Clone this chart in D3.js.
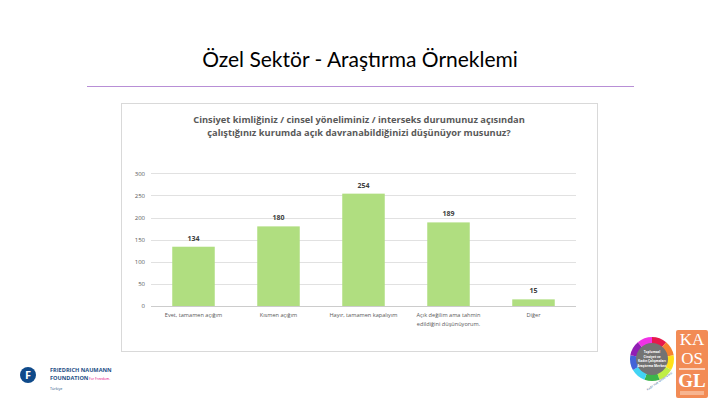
<!DOCTYPE html>
<html><head><meta charset="utf-8">
<script src="https://cdn.jsdelivr.net/npm/d3@7"></script>
<style>body{margin:0;background:#fff}svg{display:block}</style>
</head><body>
<svg id="c" width="720" height="405"></svg>
<script>
const categories = ["Evet, tamamen açığım","Kısmen açığım","Hayır, tamamen kapalıyım","Açık değilim ama tahmin edildiğini düşünüyorum.","Diğer"];
const categoryLines = [["Evet, tamamen açığım"],["Kısmen açığım"],["Hayır, tamamen kapalıyım"],["Açık değilim ama tahmin","edildiğini düşünüyorum."],["Diğer"]];
const values = [134,180,254,189,15];
const yTicks = [0,50,100,150,200,250,300];
const slideTitle = "Özel Sektör - Araştırma Örneklemi";
const chartTitle = ["Cinsiyet kimliğiniz / cinsel yöneliminiz / interseks durumunuz açısından","çalıştığınız kurumda açık davranabildiğinizi düşünüyor musunuz?"];

const svg = d3.select("#c");
const font = "'Open Sans', 'Noto Sans', sans-serif";

// Slide title
svg.append("text").attr("x",360).attr("y",67).attr("text-anchor","middle")
  .attr("font-family","Lato, 'Open Sans', sans-serif").attr("font-size",21).attr("fill","#000").text(slideTitle);
svg.append("line").attr("x1",87).attr("x2",634).attr("y1",86.5).attr("y2",86.5)
  .attr("stroke","#b88fd6").attr("stroke-width",1.2);

// Chart frame
svg.append("rect").attr("x",121.5).attr("y",103.5).attr("width",476).attr("height",248)
  .attr("fill","#fff").attr("stroke","#d9d9d9").attr("stroke-width",1);

// chart title
chartTitle.forEach((t,i)=>{
  svg.append("text").attr("x",359).attr("y",123+i*13).attr("text-anchor","middle")
    .attr("font-family",font).attr("font-weight","bold").attr("font-size",9.3)
    .attr("fill","#595959").text(t);
});

const x = d3.scaleBand().domain(categories).range([151,576]).paddingInner(0.5).paddingOuter(0.25);
const y = d3.scaleLinear().domain([0,300]).range([306,173.3]);

// gridlines
svg.append("g").selectAll("line").data(yTicks.filter(d=>d>0)).join("line")
  .attr("x1",151).attr("x2",576).attr("y1",d=>Math.round(y(d))+0.5).attr("y2",d=>Math.round(y(d))+0.5)
  .attr("stroke","#d9d9d9").attr("stroke-width",0.8);

// y axis labels
const yAxis = d3.axisLeft(y).tickValues(yTicks).tickSize(0).tickPadding(6);
const ga = svg.append("g").attr("transform","translate(151,0)").call(yAxis);
ga.select(".domain").remove();
ga.selectAll("text").attr("font-family",font).attr("font-size",6).attr("fill","#595959");

// bars
svg.append("g").selectAll("rect").data(values).join("rect")
  .attr("x",(d,i)=>x(categories[i])).attr("width",x.bandwidth())
  .attr("y",d=>y(d)).attr("height",d=>y(0)-y(d)).attr("fill","#b0de80");

// baseline
svg.append("line").attr("x1",151).attr("x2",576).attr("y1",306.5).attr("y2",306.5)
  .attr("stroke","#bfbfbf").attr("stroke-width",0.8);

// data labels
svg.append("g").selectAll("text").data(values).join("text")
  .attr("x",(d,i)=>x(categories[i])+x.bandwidth()/2).attr("y",d=>y(d)-6)
  .attr("text-anchor","middle").attr("font-family",font).attr("font-weight","bold")
  .attr("font-size",7).attr("fill","#404040").text(d=>d);

// category labels
const gx = svg.append("g");
categoryLines.forEach((lines,i)=>{
  lines.forEach((l,j)=>{
    gx.append("text").attr("x",x(categories[i])+x.bandwidth()/2).attr("y",317+j*8.5)
      .attr("text-anchor","middle").attr("font-family",font).attr("font-size",5.6)
      .attr("fill","#595959").text(l);
  });
});

// Logos (approximations)
const fn = svg.append("g");
fn.append("circle").attr("cx",28).attr("cy",375).attr("r",8).attr("fill","#0f4a8a");
fn.append("text").attr("x",28).attr("y",379).attr("text-anchor","middle").attr("font-family",font)
  .attr("font-weight","bold").attr("font-size",11).attr("fill","#fff").text("F");
fn.append("text").attr("x",50).attr("y",372).attr("font-family",font).attr("font-weight","bold")
  .attr("font-size",5.6).attr("fill","#1d4f86").text("FRIEDRICH NAUMANN");
fn.append("text").attr("x",50).attr("y",380).attr("font-family",font).attr("font-weight","bold")
  .attr("font-size",5.6).attr("fill","#1d4f86").text("FOUNDATION");
fn.append("text").attr("x",89).attr("y",380).attr("font-family",font)
  .attr("font-size",3.4).attr("fill","#e5007d").text("For Freedom.");
fn.append("text").attr("x",50).attr("y",390).attr("font-family",font)
  .attr("font-size",3.6).attr("fill","#1d4f86").text("Türkiye");

// circular logo
const lg = svg.append("g").attr("transform","translate(652,359)");
const rainbow = ["#e6194b","#f58231","#ffe119","#bfef45","#3cb44b","#42d4f4","#4363d8","#911eb4","#f032e6"];
const arc = d3.arc().innerRadius(15).outerRadius(22);
const pie = d3.pie().value(1).sort(null);
lg.selectAll("path").data(pie(rainbow)).join("path").attr("d",arc).attr("fill",(d,i)=>rainbow[i]);
lg.append("circle").attr("r",16).attr("fill","#737373");
["Toplumsal","Cinsiyet ve","Kadın Çalışmaları","Araştırma Merkezi"].forEach((t,i)=>{
  lg.append("text").attr("y",-6+i*4.5).attr("text-anchor","middle").attr("font-family",font)
    .attr("font-weight","bold").attr("font-size",3.2).attr("fill","#fff").text(t);
});
lg.append("text").attr("x",8).attr("y",23).attr("text-anchor","middle").attr("font-family",font)
  .attr("font-size",3).attr("fill","#1d4f86").attr("transform","rotate(-35,8,23)").text("Kadir Has Üniversitesi");

// KAOS GL logo
const kg = svg.append("g");
kg.append("rect").attr("x",676).attr("y",330).attr("width",32).attr("height",68).attr("rx",2).attr("fill","#f28b55");
[["KA",345],["OS",364],["GL",387]].forEach(([t,yy])=>{
  kg.append("text").attr("x",692).attr("y",yy).attr("text-anchor","middle").attr("font-family","'Liberation Serif', serif")
    .attr("font-size",t==="GL"?19:17).attr("font-weight",t==="GL"?"bold":"normal").attr("fill","#fff").text(t);
});
kg.append("line").attr("x1",679).attr("x2",705).attr("y1",369).attr("y2",369).attr("stroke","#fff").attr("stroke-width",1.2);
kg.append("rect").attr("x",680).attr("y",391).attr("width",24).attr("height",4).attr("fill","#f7b48f");
</script>
</body></html>
